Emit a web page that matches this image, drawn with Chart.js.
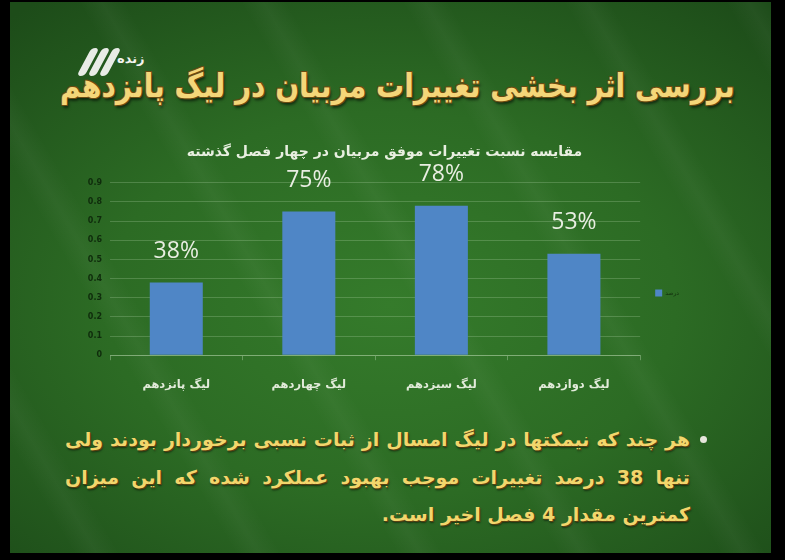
<!DOCTYPE html>
<html lang="fa">
<head>
<meta charset="utf-8">
<script src="https://cdn.jsdelivr.net/npm/chart.js@4.4.1/dist/chart.umd.min.js"></script>
<style>
  html, body { margin: 0; padding: 0; background: #000; }
  body { width: 785px; height: 560px; position: relative; overflow: hidden; font-family: "DejaVu Sans", sans-serif; }
  #board {
    position: absolute; left: 10px; top: 2px; width: 761px; height: 551px;
    background:
      repeating-linear-gradient(60deg, rgba(255,255,255,0) 0px, rgba(255,255,255,0) 55px, rgba(255,255,255,0.035) 75px, rgba(255,255,255,0) 95px, rgba(255,255,255,0) 140px),
      radial-gradient(ellipse 75% 70% at 50% 55%, #357b2b 0%, #2c6b24 50%, #1d4c19 100%);
  }
  #logo { position: absolute; left: 76px; top: 46px; width: 64px; height: 32px; }
  #logo .bar { position: absolute; top: 2px; width: 8px; height: 28px; border-radius: 4px; background: #e8ece6; transform: skewX(-28deg); }
  #logo .txt { position: absolute; left: 41px; top: 5px; font-size: 13px; font-weight: bold; color: #f4f4f0; }
  #title {
    position: absolute; right: 50px; top: 66px; white-space: nowrap; direction: rtl;
    font-size: 33px; font-weight: bold; color: #f4d679; transform-origin: right center;
    text-shadow: 1px 1px 0 #6b4c12, -1px 1px 0 #6b4c12, 1px -1px 0 #6b4c12, -1px -1px 0 #6b4c12, 2px 3px 3px rgba(0,0,0,0.55);
  }
  #chartBox { position: absolute; left: 80px; top: 135px; width: 640px; height: 275px; }
  #dot { position: absolute; left: 700px; top: 436px; width: 7px; height: 7px; border-radius: 50%; background: #e6e6dc; }
  #para {
    position: absolute; left: 65px; top: 421px; width: 625px; direction: rtl;
    font-size: 19px; font-weight: bold; line-height: 37.5px; color: #f2d66c;
    text-align: justify; text-align-last: right;
    text-shadow: 1px 1px 0 #5a4010, 1px 2px 2px rgba(0,0,0,0.5);
  }
</style>
</head>
<body>
<div id="board"></div>
<div id="logo">
  <div class="bar" style="left:8px"></div>
  <div class="bar" style="left:19px"></div>
  <div class="bar" style="left:30px"></div>
  <div class="txt">زنده</div>
</div>
<div id="title">بررسی اثر بخشی تغییرات مربیان در لیگ پانزدهم</div>
<div id="chartBox"><canvas id="chart"></canvas></div>
<div id="dot"></div>
<div id="para">هر چند که نیمکتها در لیگ امسال از ثبات نسبی برخوردار بودند ولی تنها 38 درصد تغییرات موجب بهبود عملکرد شده که این میزان کمترین مقدار 4 فصل اخیر است.</div>

<script>
// data
const leagues = ['لیگ پانزدهم', 'لیگ چهاردهم', 'لیگ سیزدهم', 'لیگ دوازدهم'];
const successRate = [0.38, 0.75, 0.78, 0.53];
const seriesName = 'درصد';
const chartTitle = 'مقایسه نسبت تغییرات موفق مربیان در چهار فصل گذشته';
const yTicks = [0, 0.1, 0.2, 0.3, 0.4, 0.5, 0.6, 0.7, 0.8, 0.9];

// squeeze the heading so it spans the same width as on the slide
const title = document.getElementById('title');
title.style.transform = 'scaleX(' + (675 / title.offsetWidth) + ')';

// percentage labels floating above the bars
const barLabels = {
    id: 'barLabels',
    afterDatasetsDraw(chart) {
        const ctx = chart.ctx;
        const meta = chart.getDatasetMeta(0);
        ctx.save();
        ctx.font = '23px "Open Sans", sans-serif';
        ctx.fillStyle = '#e9eee2';
        ctx.textAlign = 'center';
        ctx.textBaseline = 'middle';
        meta.data.forEach((bar, i) => {
            ctx.fillText(Math.round(successRate[i] * 100) + '%', bar.x, bar.y - 31);
        });
        ctx.restore();
    }
};

const ctx = document.getElementById('chart').getContext('2d');
new Chart(ctx, {
    type: 'bar',
    data: {
        labels: leagues,
        datasets: [{
            label: seriesName,
            data: successRate,
            backgroundColor: '#4f86c6',
            borderWidth: 0,
            categoryPercentage: 1,
            barPercentage: 0.4
        }]
    },
    options: {
        responsive: true,
        maintainAspectRatio: false,
        animation: false,
        layout: { padding: { left: 0, right: 31, bottom: 0 } },
        scales: {
            y: {
                min: 0,
                max: 0.9,
                afterBuildTicks: (axis) => { axis.ticks = yTicks.map(v => ({ value: v })); },
                afterFit: (axis) => { axis.width = 30; },
                border: { display: false },
                grid: { color: 'rgba(210,235,200,0.22)', drawTicks: false },
                ticks: {
                    padding: 8,
                    color: '#0f2c0c',
                    font: { family: 'DejaVu Sans', size: 8, weight: 'bold' }
                }
            },
            x: {
                border: { color: 'rgba(210,235,200,0.35)' },
                grid: { drawOnChartArea: false, color: 'rgba(210,235,200,0.35)', tickLength: 5 },
                ticks: {
                    padding: 18,
                    color: '#e2ebda',
                    font: { family: 'DejaVu Sans', size: 11.5, weight: 'bold' }
                }
            }
        },
        plugins: {
            title: {
                display: true,
                text: chartTitle,
                color: '#e8efe0',
                font: { family: 'DejaVu Sans', size: 14, weight: 'bold' },
                padding: { top: 9, bottom: 22 }
            },
            legend: {
                position: 'right',
                title: { display: true, text: ' ', font: { size: 1 }, padding: { top: 40, bottom: 0 } },
                labels: {
                    boxWidth: 7,
                    boxHeight: 7,
                    padding: 15,
                    color: '#12300e',
                    font: { family: 'DejaVu Sans', size: 6 }
                }
            },
            tooltip: { enabled: false }
        }
    },
    plugins: [barLabels]
});
</script>
</body>
</html>
